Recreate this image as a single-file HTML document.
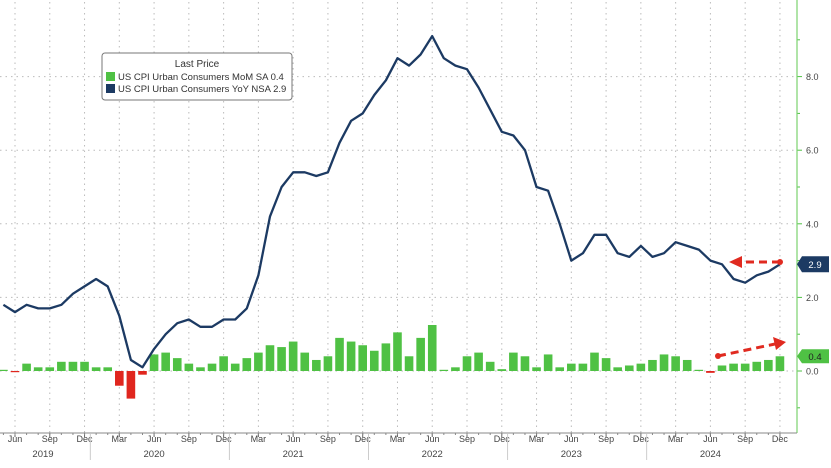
<!DOCTYPE html>
<html><head><meta charset="utf-8"><style>
html,body{margin:0;padding:0;background:#fff;}
svg{display:block;font-family:"Liberation Sans",sans-serif;}
</style></head><body>
<svg id="chart" width="831" height="468" viewBox="0 0 831 468">
<g id="grid"></g>
<g id="bars"></g>
<g id="line"></g>
<g id="axes"></g>
<g>
<rect x="102" y="53" width="190" height="47" rx="3" fill="#fff" stroke="#777" stroke-width="1"/>
<text x="197" y="67" font-size="10" fill="#333" text-anchor="middle">Last Price</text>
<rect x="106" y="72" width="9" height="9" fill="#4fc144"/>
<text x="118" y="80" font-size="9.5" fill="#333">US CPI Urban Consumers MoM SA  0.4</text>
<rect x="106" y="84" width="9" height="9" fill="#1c3a63"/>
<text x="118" y="92" font-size="9.5" fill="#333">US CPI Urban Consumers YoY NSA 2.9</text>
</g>
<g>
<line x1="780" y1="262" x2="740" y2="262" stroke="#e02a20" stroke-width="3" stroke-dasharray="8,5"/>
<circle cx="780" cy="262" r="3" fill="#e02a20"/>
<polygon points="729,262 742,256 742,268" fill="#e02a20"/>
<line x1="718" y1="356" x2="775" y2="344" stroke="#e02a20" stroke-width="3" stroke-dasharray="8,5"/>
<circle cx="718" cy="356" r="3" fill="#e02a20"/>
<polygon points="786,342 773,337 776,350" fill="#e02a20"/>
</g>
</svg>
<script>
const yoyMonths = 68; // May 2019 .. Dec 2024
const yoyValues = [1.8,1.6,1.8,1.7,1.7,1.8,2.1,2.3,2.5,2.3,1.5,0.3,0.1,0.6,1.0,1.3,1.4,1.2,1.2,1.4,1.4,1.7,2.6,4.2,5.0,5.4,5.4,5.3,5.4,6.2,6.8,7.0,7.5,7.9,8.5,8.3,8.6,9.1,8.5,8.3,8.2,7.7,7.1,6.5,6.4,6.0,5.0,4.9,4.0,3.0,3.2,3.7,3.7,3.2,3.1,3.4,3.1,3.2,3.5,3.4,3.3,3.0,2.9,2.5,2.4,2.6,2.7,2.9];
const momValues = [0.0,-0.02,0.2,0.1,0.1,0.25,0.25,0.25,0.1,0.1,-0.4,-0.75,-0.1,0.45,0.5,0.35,0.2,0.1,0.2,0.4,0.2,0.35,0.5,0.7,0.65,0.8,0.5,0.3,0.4,0.9,0.8,0.7,0.55,0.75,1.05,0.4,0.9,1.25,0.0,0.1,0.4,0.5,0.25,0.05,0.5,0.4,0.1,0.45,0.1,0.2,0.2,0.5,0.35,0.1,0.15,0.2,0.3,0.45,0.4,0.3,0.0,-0.05,0.15,0.2,0.2,0.25,0.3,0.4];
const yTicks = [0,2,4,6,8];
const monthLabels = ["Jun","Sep","Dec","Mar"];
const yearLabels = ["2019","2020","2021","2022","2023","2024"];
const lastYoy = "2.9", lastMom = "0.4";

const NS="http://www.w3.org/2000/svg";
function el(tag,attrs,parent,text){const e=document.createElementNS(NS,tag);for(const k in attrs)e.setAttribute(k,attrs[k]);if(text!=null)e.textContent=text;parent.appendChild(e);return e;}
const x = i => 15 + (i-1)*11.59;
const y = v => 371 - v*36.8;
const grid=document.getElementById('grid'), bars=document.getElementById('bars'), line=document.getElementById('line'), axes=document.getElementById('axes');

for(let i=1;i<yoyMonths;i+=3){
  const g=el('line',{x1:x(i),x2:x(i),y1:2,y2:433,stroke:'#bbb','stroke-width':1,'stroke-dasharray':'1.5,4'},grid);
  
  
  const t=el('text',{x:x(i),y:442,'font-size':9,fill:'#444','text-anchor':'middle'},axes,monthLabels[((i-1)/3)%4]);
  
  
  el('line',{x1:x(i),x2:x(i),y1:433,y2:437,stroke:'#666'},axes);
}
for(let i=0;i<yoyMonths;i++) el('line',{x1:x(i),x2:x(i),y1:433,y2:435,stroke:'#888'},axes);
yTicks.forEach(v=>{
  const g=el('line',{x1:0,x2:797,y1:y(v),y2:y(v),stroke:'#bbb','stroke-width':1,'stroke-dasharray':'1.5,4'},grid);
  
  
  el('line',{x1:797,x2:802,y1:y(v),y2:y(v),stroke:'#4fc144'},axes);
  const t=el('text',{x:806,y:y(v)+3.5,'font-size':9,fill:'#444'},axes,v.toFixed(1));
  
  
});
[-1,1,3,5,7,9].forEach(v=>el('line',{x1:797,x2:800,y1:y(v),y2:y(v),stroke:'#4fc144'},axes));
el('line',{x1:797,x2:797,y1:0,y2:433,stroke:'#7bd36f','stroke-width':1.2},axes);
el('line',{x1:0,x2:797,y1:433,y2:433,stroke:'#888'},axes);
yearLabels.forEach((yr,k)=>{
  const startJan = 8 + 12*k;
  const midJun = 1 + 12*k;
  const t=el('text',{x:k==0?43:x(midJun),y:457,'font-size':9.5,fill:'#444','text-anchor':'middle'},axes,yr);
  
  
  if(k<yearLabels.length-1) el('line',{x1:x(startJan)-5.8,x2:x(startJan)-5.8,y1:434,y2:460,stroke:'#ccc'},axes);
});
momValues.forEach((v,i)=>{
  const h=Math.max(Math.abs(v)*36.8,1.2);
  const b=el('rect',{x:x(i)-4.3,y:v>=0?y(v)-(v==0?1.2:0):y(0),width:8.6,height:h,fill:v<0?'#e0261e':'#4fc144'},bars);
  
  
});
const pts=yoyValues.map((v,i)=>x(i).toFixed(1)+','+y(v).toFixed(1)).join(' ');
const pl=el('polyline',{points:pts,fill:'none',stroke:'#1c3a63','stroke-width':2.3,'stroke-linejoin':'round'},line);


const yv=y(parseFloat(lastYoy));
const tg=el('polygon',{points:`797,${yv} 802,${yv-8} 829,${yv-8} 829,${yv+8} 802,${yv+8}`,fill:'#1c3a63'},axes);


el('text',{x:815,y:yv+3.5,'font-size':9.5,fill:'#fff','text-anchor':'middle'},axes,lastYoy);
const mv=y(parseFloat(lastMom));
const tm=el('polygon',{points:`797,${mv} 802,${mv-7} 829,${mv-7} 829,${mv+7} 802,${mv+7}`,fill:'#4fc144'},axes);


el('text',{x:815,y:mv+3.5,'font-size':9.5,fill:'#222','text-anchor':'middle'},axes,lastMom);
</script>
</body></html>
